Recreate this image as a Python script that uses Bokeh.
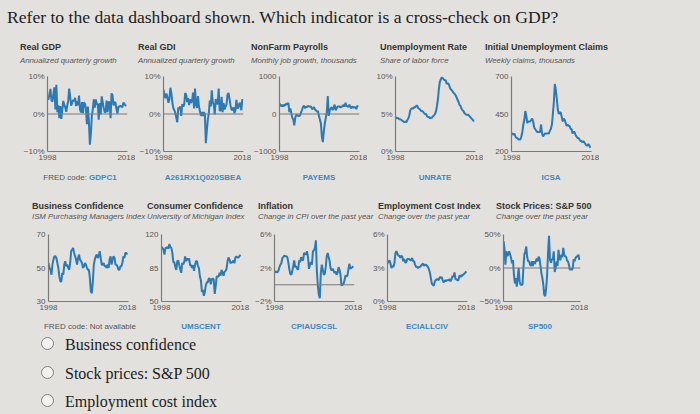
import html as _html
from bokeh.plotting import figure
from bokeh.models import Range1d, FixedTicker, Span, Div
from bokeh.layouts import column, row
from bokeh.embed import file_html
from bokeh.resources import INLINE

# ---------------- data ----------------
question = "Refer to the data dashboard shown. Which indicator is a cross-check on GDP?"
options = ["Business confidence", "Stock prices: S&P 500", "Employment cost index"]

quarters = [1998 + i / 4 for i in range(81)]  # 1998Q1 .. 2018Q1
year_ticks = [1998, 2018]
year_labels = ["1998", "2018"]

real_gdp = [4.0, 3.9, 5.3, 6.7, 3.7, 3.3, 5.3, 7.1, 1.2, 7.8, 0.5, 2.3, -1.1, 2.1, -1.3, 1.1,
            3.5, 2.4, 1.8, 0.6, 2.2, 3.5, 6.8, 4.7, 2.2, 3.0, 3.7, 3.5, 4.3, 2.1, 3.4, 2.3,
            4.9, 1.2, 0.4, 3.2, 0.2, 3.1, 2.7, 1.4, -2.7, 2.0, -1.9, -8.2, -5.4, -0.5, 1.3, 3.9,
            1.7, 3.9, 2.7, 2.5, -1.5, 2.9, -0.1, 4.7, 3.2, 1.7, 0.5, 0.5, 3.6, 0.5, 3.2, 3.2,
            -1.1, 5.5, 5.0, 2.3, 3.2, 3.0, 1.3, 0.1, 2.0, 1.9, 2.2, 2.0, 1.8, 3.0, 2.8, 2.3, 2.2]
real_gdi = [6.5, 5.0, 4.2, 5.5, 4.4, 3.0, 4.0, 7.0, 5.5, 3.0, 1.6, 1.0, 0.3, -1.0, -2.2, 1.7,
            1.4, 2.0, -0.5, 2.6, 2.0, 2.5, 5.6, 5.2, 3.2, 4.2, 2.4, 3.9, 3.0, 3.5, 5.7, 1.5,
            6.8, 2.6, 1.6, 4.8, 2.0, 0.7, -0.5, 0.5, -0.5, 0.5, -0.1, -7.8, -4.4, -1.5, 0.3, 3.6,
            2.0, 6.3, 3.1, 2.5, -0.1, 4.0, 2.9, 2.6, 6.8, 0.8, 1.0, 4.6, 0.5, 2.9, 1.2, 2.0,
            2.6, 5.2, 5.6, 4.0, 2.3, 1.2, 1.0, 1.8, 0.2, 1.0, 3.8, 1.5, 1.7, 2.9, 2.8, 1.0, 4.0]
payrolls = [280, 240, 200, 250, 200, 250, 230, 280, 250, 300, 50, 150, 30, -100, -150, -300,
            -100, -20, -30, -50, -50, -30, 50, 120, 200, 220, 150, 200, 180, 220, 200, 200,
            200, 130, 150, 180, 120, 100, 60, 80, -50, -150, -250, -600, -750, -450, -250, -100,
            50, 480, -50, 100, 150, 180, 100, 170, 250, 100, 150, 200, 200, 200, 170, 200,
            200, 250, 200, 300, 200, 220, 180, 250, 190, 150, 200, 170, 180, 180, 130, 220, 200]
unrate = [4.6, 4.4, 4.5, 4.4, 4.3, 4.3, 4.2, 4.1, 4.0, 3.9, 4.0, 3.9, 4.2, 4.4, 4.8, 5.5,
          5.7, 5.8, 5.7, 5.9, 5.9, 6.1, 6.1, 5.8, 5.7, 5.6, 5.4, 5.4, 5.3, 5.1, 5.0, 5.0,
          4.7, 4.6, 4.6, 4.4, 4.5, 4.5, 4.7, 4.8, 5.0, 5.3, 6.0, 6.9, 8.3, 9.3, 9.6, 9.9,
          9.8, 9.6, 9.5, 9.5, 9.0, 9.1, 9.0, 8.6, 8.3, 8.2, 8.0, 7.8, 7.7, 7.5, 7.2, 6.9,
          6.6, 6.2, 6.1, 5.7, 5.5, 5.4, 5.1, 5.0, 4.9, 4.9, 4.9, 4.7, 4.6, 4.4, 4.3, 4.1, 4.1]
claims = [320, 320, 310, 320, 300, 290, 290, 280, 280, 280, 300, 330, 380, 410, 470, 440,
          390, 400, 400, 400, 410, 420, 400, 360, 350, 340, 330, 330, 330, 330, 380, 320,
          300, 310, 320, 320, 320, 320, 320, 340, 350, 380, 450, 530, 650, 610, 550, 480,
          450, 460, 460, 430, 400, 420, 410, 390, 370, 380, 370, 370, 350, 350, 320, 330,
          330, 310, 300, 290, 290, 280, 270, 270, 260, 270, 260, 250, 240, 240, 250, 240, 225]
ism = [53, 50, 49, 46, 52, 55, 57, 57, 56, 53, 50, 45, 42, 42, 47, 46,
       52, 54, 51, 52, 50, 49, 53, 60, 61, 62, 59, 57, 55, 52, 56, 58,
       55, 54, 53, 50, 51, 53, 52, 50, 49, 49, 44, 36, 35, 42, 52, 55,
       57, 58, 56, 57, 60, 56, 52, 52, 53, 51, 51, 50, 52, 50, 55, 57,
       52, 55, 57, 56, 52, 52, 51, 49, 49, 51, 51, 53, 57, 56, 59, 59, 58]
umich = [107, 106, 104, 99, 106, 106, 107, 105, 110, 107, 106, 101, 91, 91, 86, 83,
         92, 93, 88, 84, 80, 90, 89, 91, 97, 92, 95, 93, 95, 88, 88, 85,
         88, 82, 88, 92, 92, 87, 85, 76, 72, 60, 62, 56, 60, 67, 70, 70,
         74, 74, 68, 73, 74, 73, 58, 66, 76, 76, 76, 80, 77, 83, 80, 77,
         81, 82, 84, 92, 96, 94, 90, 91, 91, 93, 90, 96, 97, 96, 96, 97, 99]
cpi = [1.5, 1.6, 1.5, 1.5, 1.7, 2.1, 2.4, 2.6, 3.2, 3.3, 3.5, 3.4, 3.4, 3.3, 2.7, 1.9,
       1.3, 1.2, 1.6, 2.2, 2.9, 2.1, 2.2, 1.9, 1.8, 2.9, 2.7, 3.3, 3.0, 2.9, 3.8, 3.7,
       3.6, 4.0, 3.3, 1.9, 2.4, 2.7, 2.4, 4.0, 4.1, 4.4, 5.3, 1.6, -0.1, -1.2, -1.6, 1.4,
       2.4, 1.8, 1.2, 1.3, 2.1, 3.4, 3.8, 3.3, 2.8, 1.9, 1.7, 1.9, 1.7, 1.4, 1.6, 1.2,
       1.4, 2.1, 1.8, 1.2, -0.1, 0.0, 0.1, 0.5, 1.1, 1.0, 1.1, 1.8, 2.5, 1.9, 2.0, 2.1, 2.2]
eci = [3.5, 3.5, 3.7, 3.4, 3.0, 3.2, 3.1, 3.4, 4.3, 4.5, 4.3, 4.1, 4.1, 3.9, 4.1, 4.0,
       3.6, 3.8, 3.5, 3.5, 3.8, 3.8, 3.8, 3.7, 3.7, 3.9, 3.6, 3.6, 3.3, 3.1, 3.1, 3.0,
       3.1, 3.1, 3.2, 3.3, 3.4, 3.2, 3.3, 3.3, 3.2, 3.1, 2.9, 2.6, 2.1, 1.6, 1.5, 1.4,
       1.8, 1.9, 2.0, 2.0, 1.9, 2.2, 2.1, 2.2, 1.9, 1.7, 1.9, 1.8, 1.9, 1.9, 1.9, 2.0,
       1.8, 2.0, 2.3, 2.2, 2.6, 2.0, 2.0, 1.9, 1.9, 2.3, 2.3, 2.2, 2.4, 2.4, 2.5, 2.6, 2.7]
sp500 = [40, 30, 5, 25, 18, 20, 25, 20, 15, 7, 12, -10, -23, -15, -28, -14,
         0, -20, -25, -25, -25, 0, 20, 25, 32, 16, 10, 10, 5, 3, 10, 3,
         10, 6, 10, 14, 10, 17, 14, 3, -8, -15, -25, -40, -42, -30, -10, 23,
         48, 13, 8, 13, 13, 25, -6, 0, 10, 3, 27, 13, 12, 20, 16, 30,
         20, 17, 17, 11, 10, 5, -3, -1, -3, 0, 13, 10, 15, 17, 17, 20, 12]

titles_1 = ["Real GDP", "Real GDI", "NonFarm Payrolls", "Unemployment Rate", "Initial Unemployment Claims"]
subs_1 = ["Annualized quarterly growth", "Annualized quarterly growth", "Monthly job growth, thousands",
          "Share of labor force", "Weekly claims, thousands"]
codes_1 = ["GDPC1", "A261RX1Q020SBEA", "PAYEMS", "UNRATE", "ICSA"]
series_1 = [real_gdp, real_gdi, payrolls, unrate, claims]
yticks_1 = [[-10, 0, 10], [-10, 0, 10], [-1000, 0, 1000], [0, 5, 10], [200, 450, 700]]
ylabels_1 = [["\u221210%", "0%", "10%"], ["\u221210%", "0%", "10%"], ["\u22121000", "0", "1000"],
             ["0%", "5%", "10%"], ["200", "450", "700"]]
zero_1 = [True, True, True, False, False]

titles_2 = ["Business Confidence", "Consumer Confidence", "Inflation", "Employment Cost Index", "Stock Prices: S&P 500"]
subs_2 = ["ISM Purchasing Managers Index", "University of Michigan Index", "Change in CPI over the past year",
          "Change over the past year", "Change over the past year"]
codes_2 = ["Not available", "UMSCENT", "CPIAUSCSL", "ECIALLCIV", "SP500"]
series_2 = [ism, umich, cpi, eci, sp500]
yticks_2 = [[30, 50, 70], [50, 85, 120], [-2, 2, 6], [0, 3, 6], [-50, 0, 50]]
ylabels_2 = [["30", "50", "70"], ["50", "85", "120"], ["\u22122%", "2%", "6%"], ["0%", "3%", "6%"],
             ["\u221250%", "0%", "50%"]]
zero_2 = [False, False, True, False, True]

# ---------------- style ----------------
BG = "#e3e1dd"
LINE = "#2b7ab6"
AXIS = "#7a7a7a"
SANS = "Liberation Sans"
SERIF = "Liberation Serif"


def mini(values, ticks, labels, zero, lb, rb, bt, bb, h):
    p = figure(width=lb + 80 + rb, height=h, output_backend="svg", toolbar_location=None,
               x_range=Range1d(1998, 2018.3), y_range=Range1d(ticks[0], ticks[-1]),
               min_border_left=lb, min_border_right=rb, min_border_top=bt, min_border_bottom=bb,
               background_fill_color=BG, border_fill_color=BG, outline_line_color=None, margin=0)
    p.grid.visible = False
    for ax in (p.xaxis[0], p.yaxis[0]):
        ax.axis_line_color = AXIS
        ax.axis_line_width = 1.2
        ax.major_tick_line_color = None
        ax.minor_tick_line_color = None
        ax.major_tick_out = 0
        ax.major_tick_in = 0
        ax.major_label_text_font = SANS
        ax.major_label_text_font_size = "8px"
        ax.major_label_text_color = "#555555"
        ax.major_label_standoff = 3
    p.xaxis.ticker = FixedTicker(ticks=year_ticks)
    p.xaxis.major_label_overrides = dict(zip(year_ticks, year_labels))
    p.yaxis.ticker = FixedTicker(ticks=ticks)
    p.yaxis.major_label_overrides = dict(zip(ticks, labels))
    if zero:
        p.add_layout(Span(location=0, dimension="width", line_color=AXIS, line_width=1.2))
    p.line(quarters, values, line_color=LINE, line_width=2)
    return p


def title_div(titles, subs, axis_x, offs, ty, sy, h):
    parts = [f'<div style="position:relative;width:700px;height:{h}px;font-family:{SANS},Arial,sans-serif;">']
    for t, s, ax, o in zip(titles, subs, axis_x, offs):
        left = ax + o
        parts.append(f'<div style="position:absolute;left:{left}px;top:{ty - 6}px;line-height:12px;'
                     f'font-size:9px;font-weight:bold;color:#333;white-space:nowrap">{_html.escape(t)}</div>')
        parts.append(f'<div style="position:absolute;left:{left}px;top:{sy - 6}px;line-height:12px;'
                     f'font-size:7.8px;font-style:italic;color:#555;white-space:nowrap">{_html.escape(s)}</div>')
    parts.append('</div>')
    return Div(text="".join(parts), width=700, height=h, margin=0)


def code_div(codes, centers, cy, h, prefix_idx, prefix_blue):
    parts = [f'<div style="position:relative;width:700px;height:{h}px;font-family:{SANS},Arial,sans-serif;">']
    for i, (c, cx) in enumerate(zip(codes, centers)):
        if i == prefix_idx:
            col = "#3b88c4" if prefix_blue else "#555"
            wt = "bold" if prefix_blue else "normal"
            inner = (f'<span style="color:#555;font-weight:normal">FRED code: </span>'
                     f'<span style="color:{col};font-weight:{wt}">{_html.escape(c)}</span>')
        else:
            inner = f'<span style="color:#3b88c4;font-weight:bold">{_html.escape(c)}</span>'
        parts.append(f'<div style="position:absolute;left:{cx - 70}px;width:140px;text-align:center;'
                     f'top:{cy - 6}px;line-height:12px;font-size:8px;white-space:nowrap">{inner}</div>')
    parts.append('</div>')
    return Div(text="".join(parts), width=700, height=h, margin=0)


# header
header = Div(text=f'<div style="padding:8px 0 0 7px;font-family:{SERIF},serif;font-size:17.6px;line-height:18px;'
                  f'color:#1c1c1c;white-space:nowrap">{_html.escape(question)}</div>',
             width=700, height=36, margin=0)

# row 1
axis1 = [47, 163, 279, 395, 511]
t1 = title_div(titles_1, subs_1, axis1, [-27, -25, -28, -15, -26], 11, 25, 34)
figs1 = []
for i in range(5):
    lb = 47 if i == 0 else 28
    figs1.append(mini(series_1[i], yticks_1[i], ylabels_1[i], zero_1[i], lb, 8, 6, 14, 95))
c1 = code_div(codes_1, [80, 203, 319, 435, 551], 13, 25, 0, True)

# row 2
axis2 = [48, 161, 274, 387, 500]
t2 = title_div(titles_2, subs_2, axis2, [-16, -14, -16, -9, -4], 16, 27, 36)
figs2 = []
for i in range(5):
    lb = 48 if i == 0 else 24
    figs2.append(mini(series_2[i], yticks_2[i], ylabels_2[i], zero_2[i], lb, 9, 8, 14, 89))
c2 = code_div(codes_2, [90, 201, 314, 427, 540], 12, 20, 0, False)

# answer options
opt_parts = [f'<div style="position:relative;width:700px;height:78px;font-family:{SERIF},serif;">']
for o, cy in zip(options, [10, 39, 67]):
    opt_parts.append(f'<div style="position:absolute;left:41px;top:{cy - 8}px;width:13px;height:13px;'
                     f'border:1.5px solid #808080;border-radius:50%;background:#f2f1ef"></div>')
    opt_parts.append(f'<div style="position:absolute;left:65px;top:{cy - 10}px;line-height:20px;font-size:16px;'
                     f'color:#1c1c1c;white-space:nowrap">{_html.escape(o)}</div>')
opt_parts.append('</div>')
opts = Div(text="".join(opt_parts), width=700, height=78, margin=0)

layout = column(header, t1, row(*figs1, margin=0), c1, t2, row(*figs2, margin=0), c2, opts, margin=0)

page = file_html(layout, INLINE, title="Data dashboard")
page = page.replace("<head>", f"<head><style>html,body{{background:{BG};}}</style>", 1)
open("out.html", "w").write(page)
